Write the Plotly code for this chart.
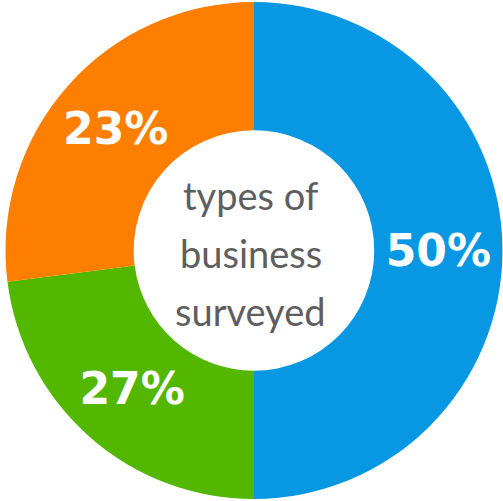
import plotly.graph_objects as go

# Slice sizes as drawn (clockwise from 12 o'clock) and the labels printed on them
categories = ["Type A", "Type B", "Type C"]
values = [50, 23, 27]
labels_shown = ["50%", "27%", "23%"]
colors = ["#0797E3", "#53B700", "#FE7F00"]
center_lines = ["types of", "business", "surveyed"]

fig = go.Figure(go.Pie(
    labels=categories,
    values=values,
    text=labels_shown,
    textinfo="text",
    textposition="inside",
    insidetextorientation="horizontal",
    hole=0.484,
    sort=False,
    direction="clockwise",
    rotation=0,
    marker=dict(colors=colors, line=dict(width=0)),
    textfont=dict(family="DejaVu Sans", size=44, color="white", weight="bold"),
    showlegend=False,
    hoverinfo="skip",
))

ys = [0.611, 0.495, 0.379]
for line, y in zip(center_lines, ys):
    fig.add_annotation(text=line, x=0.493, y=y, xref="paper", yref="paper",
                       showarrow=False, font=dict(family="Lato", size=38, color="#5E5E5E"))

fig.update_layout(width=503, height=501, margin=dict(l=5, r=0, t=2, b=2),
                  paper_bgcolor="white", plot_bgcolor="white")
fig.write_html("out.html")
